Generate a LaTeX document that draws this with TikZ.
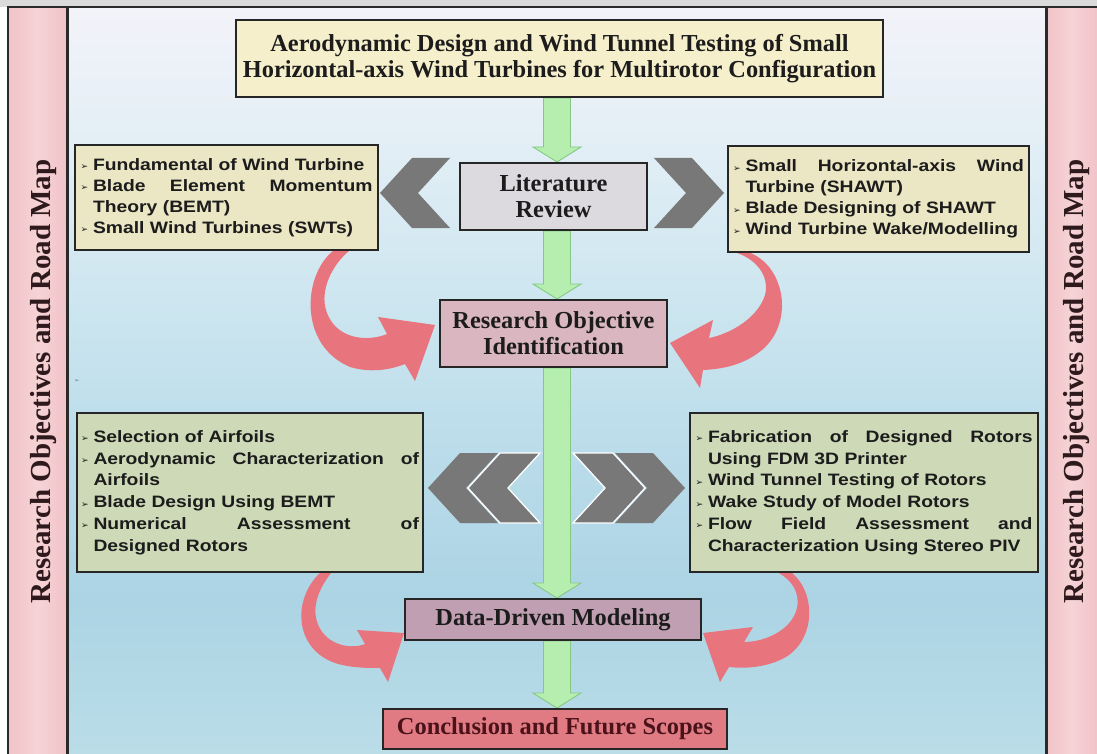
\documentclass[tikz,border=0pt]{standalone}
\usepackage{fontspec}
\setmainfont{Liberation Serif}
\newfontfamily\boxfont[FakeStretch=1.17]{Liberation Sans}
\newfontfamily\dvsans{DejaVu Sans}
\usetikzlibrary{calc}
\pgfdeclarelayer{bg}
\pgfsetlayers{bg,main}

\definecolor{topgrey}{HTML}{DADADA}
\definecolor{frameline}{HTML}{2A2A2A}
\definecolor{pinkA}{HTML}{F1C3C8}
\definecolor{pinkB}{HTML}{F6D3D6}
\definecolor{bgA}{HTML}{F3F3F9}
\definecolor{bgB}{HTML}{E2EEF5}
\definecolor{bgC}{HTML}{CDE6F0}
\definecolor{bgD}{HTML}{BBDCEA}
\definecolor{bgE}{HTML}{ACD4E4}
\definecolor{bgF}{HTML}{BADDE8}
\definecolor{boxline}{HTML}{262626}
\definecolor{txtdark}{HTML}{1C1C1C}
\definecolor{sidetext}{HTML}{2E1A1C}
\definecolor{titlefill}{HTML}{F6EFCB}
\definecolor{topfill}{HTML}{EBE6C4}
\definecolor{litfill}{HTML}{DCD9DF}
\definecolor{rofill}{HTML}{D9B6C0}
\definecolor{lowfill}{HTML}{CDD9B7}
\definecolor{ddfill}{HTML}{BF9FB1}
\definecolor{concfill}{HTML}{E07B84}
\definecolor{conctext}{HTML}{4B1219}
\definecolor{gfill}{HTML}{B6EEB0}
\definecolor{gline}{HTML}{84C884}
\definecolor{redfill}{HTML}{E8747E}
\definecolor{chevgrey}{HTML}{787878}
\definecolor{strayblue}{HTML}{5F7F9F}

\pgfdeclareverticalshading{mainbg}{100bp}{color(0bp)=(bgF); color(25bp)=(bgF); color(35.3bp)=(bgE); color(45.4bp)=(bgD); color(55.4bp)=(bgC); color(65.5bp)=(bgB); color(75bp)=(bgA); color(100bp)=(bgA)}
\pgfdeclarehorizontalshading{panelbg}{100bp}{color(0bp)=(pinkA); color(25bp)=(pinkA); color(50bp)=(pinkB); color(75bp)=(pinkA); color(100bp)=(pinkA)}

\newcommand\serifbig{\fontsize{24.4pt}{26pt}\selectfont\bfseries}
\newcommand\sidefont{\fontsize{29pt}{30pt}\selectfont\bfseries}
\newcommand\sansbox{\boxfont\fontsize{16.5pt}{21pt}\selectfont\bfseries}
\newcommand\sansboxb{\boxfont\fontsize{16.5pt}{21.8pt}\selectfont\bfseries}
\newcommand\bul{\makebox[12.5pt][l]{\raisebox{0.5pt}{\dvsans\fontsize{9pt}{9pt}\selectfont ➢}}}
\newcommand\ind{\hspace*{12.5pt}}
\newcommand\jline[2]{\makebox[#1][l]{#2}}

\tikzset{
  box/.style={draw=boxline, line width=2pt, inner sep=0pt, text=txtdark},
  headbox/.style={box, font=\serifbig, align=center},
  listbox/.style={box, align=left, font=\sansbox},
  garrow/.style={fill=gfill, draw=gline, line width=0.9pt},
  redarrow/.style={fill=redfill},
  chev/.style={fill=chevgrey},
  sidelabel/.style={rotate=90, anchor=base, font=\sidefont, text=sidetext, inner sep=0pt},
}

\begin{document}
\begin{tikzpicture}[x=1pt,y=-1pt]
\useasboundingbox (0,0) rectangle (1097,754);

\begin{pgfonlayer}{bg}
  \fill[topgrey] (0,0) rectangle (1097,7);
  \shade[shading=panelbg] (8,7) rectangle (67,754);
  \shade[shading=panelbg] (1046,7) rectangle (1097,754);
  \shade[shading=mainbg] (67,7) rectangle (1046,754);
  \draw[frameline, line width=1.5pt] (8,754) -- (8,7) -- (1097,7);
  \draw[frameline, line width=3pt] (67.5,7) -- (67.5,754);
  \draw[frameline, line width=3pt] (1046,7) -- (1046,754);
\end{pgfonlayer}

% side labels
\node[sidelabel] (labL) at (50,381.5) {Research Objectives and Road Map};
\node[sidelabel] (labR) at (1083,381.5) {Research Objectives and Road Map};

% central boxes
\node[headbox, fill=titlefill, minimum width=647pt, minimum height=77pt] (title) at (559.5,58.5)
  {Aerodynamic Design and Wind Tunnel Testing of Small\\Horizontal-axis Wind Turbines for Multirotor Configuration};
\node[headbox, fill=litfill, minimum width=187pt, minimum height=67pt] (lit) at (553.5,196.5)
  {Literature\\Review};
\node[headbox, fill=rofill, minimum width=227pt, minimum height=67pt] (ro) at (553.5,333.5)
  {Research Objective\\Identification};
\node[headbox, fill=ddfill, minimum width=296pt, minimum height=41pt] (dd) at (553,619.5)
  {Data-Driven Modeling};
\node[headbox, fill=concfill, text=conctext, minimum width=344pt, minimum height=40pt] (conc) at (555,729)
  {Conclusion and Future Scopes};

% list boxes
\node[listbox, fill=topfill, minimum width=303pt, minimum height=105pt, text width=292pt] (tl) at (226.5,197.5)
  {\bul Fundamental of Wind Turbine\\
   \jline{292pt}{\bul Blade\hfill Element\hfill Momentum}\\
   \ind Theory (BEMT)\\
   \bul Small Wind Turbines (SWTs)};
\node[listbox, fill=topfill, minimum width=301pt, minimum height=106pt, text width=291pt] (tr) at (878.5,199)
  {\jline{291pt}{\bul Small\hfill Horizontal-axis\hfill Wind}\\
   \ind Turbine (SHAWT)\\
   \bul Blade Designing of SHAWT\\
   \bul Wind Turbine Wake/Modelling};
\node[listbox, font=\sansboxb, fill=lowfill, minimum width=346pt, minimum height=159pt, text width=338pt] (ll) at (250,492.5)
  {\bul Selection of Airfoils\\
   \jline{338pt}{\bul Aerodynamic\hfill Characterization\hfill of}\\
   \ind Airfoils\\
   \bul Blade Design Using BEMT\\
   \jline{338pt}{\bul Numerical\hfill Assessment\hfill of}\\
   \ind Designed Rotors};
\node[listbox, font=\sansboxb, fill=lowfill, minimum width=348pt, minimum height=159pt, text width=337pt] (lr) at (864,492.5)
  {\jline{337pt}{\bul Fabrication\hfill of\hfill Designed\hfill Rotors}\\
   \ind Using FDM 3D Printer\\
   \bul Wind Tunnel Testing of Rotors\\
   \bul Wake Study of Model Rotors\\
   \jline{337pt}{\bul Flow\hfill Field\hfill Assessment\hfill and}\\
   \ind Characterization Using Stereo PIV};

% stray bullet
\node[inner sep=0pt, text=strayblue, font=\dvsans\fontsize{6pt}{6pt}\selectfont] (stray) at (77,381) {➢};

\coordinate (axis) at (557,0);

\begin{pgfonlayer}{bg}
  % red curved arrows
  \fill[redarrow] (333,251) .. controls (303,275) and (298,345) .. (350,367)
     .. controls (370,373) and (390,370) .. (405,364) -- (415,381) -- (435,325) -- (378,317) -- (387,334)
     .. controls (368,342) and (335,340) .. (326,310) .. controls (320,290) and (332,265) .. (349,251) -- cycle;
  \fill[redarrow] (748,252) .. controls (785,265) and (795,322) .. (762,350)
     .. controls (745,364) and (725,369) .. (703,370) -- (700,388) -- (670,343) -- (713,320) -- (709,338)
     .. controls (730,334) and (758,318) .. (765,295) .. controls (770,275) and (755,258) .. (734,252) -- cycle;
  \fill[redarrow] (320,573) .. controls (293,598) and (293,648) .. (335,663)
     .. controls (350,668) and (368,668) .. (380,668) -- (388,682) -- (404,633) -- (357,630) -- (365,644)
     .. controls (350,650) and (322,645) .. (316,618) .. controls (313,600) and (322,585) .. (331,573) -- cycle;
  \fill[redarrow] (792,573) .. controls (818,595) and (815,645) .. (780,660)
     .. controls (765,667) and (745,669) .. (729,667) -- (720,682) -- (703,633) -- (753,627) -- (744,642)
     .. controls (765,642) and (792,630) .. (797,608) .. controls (800,592) and (792,581) .. (779,573) -- cycle;
  % chevrons
  \fill[chev] (412,158) -- (450,158) -- (418,193) -- (450,228) -- (412,228) -- (380,193) -- cycle;
  \fill[chev] (692,158) -- (654,158) -- (686,193) -- (654,228) -- (692,228) -- (724,193) -- cycle;
  \fill[chev] (460,453) -- (498,453) -- (466,488) -- (498,523) -- (460,523) -- (428,488) -- cycle;
  \filldraw[chev, draw=white, line width=1.3pt] (500,453) -- (540,453) -- (508,488) -- (540,523) -- (500,523) -- (468,488) -- cycle;
  \fill[chev] (653,453) -- (615,453) -- (647,488) -- (615,523) -- (653,523) -- (685,488) -- cycle;
  \filldraw[chev, draw=white, line width=1.3pt] (613,453) -- (573,453) -- (605,488) -- (573,523) -- (613,523) -- (645,488) -- cycle;
  % green arrows
  \foreach \a/\b in {title/lit, lit/ro, ro/dd, dd/conc}{
    \draw[garrow] let \p1=(\a.south), \p2=(\b.north), \p3=(axis) in
      (\x3-13.5pt,\y1) -- (\x3-13.5pt,\y2+15pt) -- (\x3-24pt,\y2+15pt) -- (\x3,\y2)
      -- (\x3+24pt,\y2+15pt) -- (\x3+13.5pt,\y2+15pt) -- (\x3+13.5pt,\y1) -- cycle;
  }
\end{pgfonlayer}
\end{tikzpicture}
\end{document}
